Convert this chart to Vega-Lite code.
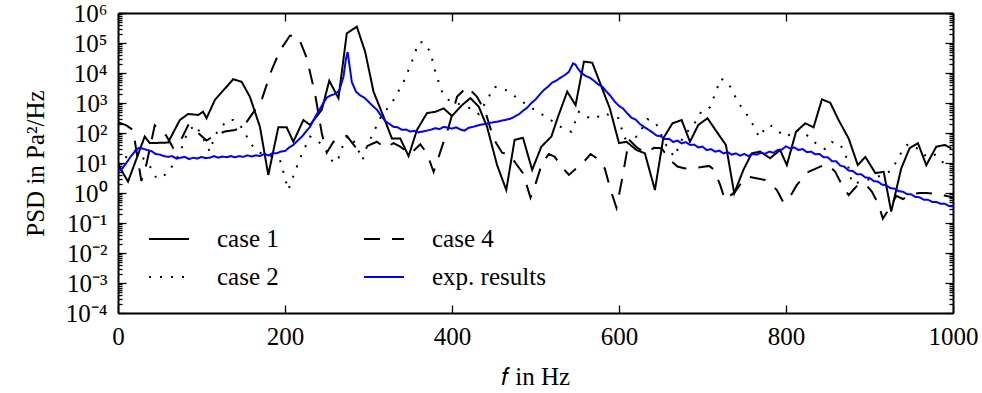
{
  "$schema": "https://vega.github.io/schema/vega-lite/v6.json",
  "width": 835,
  "height": 300,
  "autosize": {"type": "none"},
  "padding": {"left": 118, "top": 13, "right": 29, "bottom": 80},
  "config": {
    "view": {"stroke": null},
    "axis": {
      "grid": false,
      "domainColor": "black",
      "domainWidth": 2,
      "tickColor": "black",
      "tickWidth": 1.3,
      "labelFont": "Liberation Serif",
      "labelFontSize": 25,
      "labelColor": "black",
      "titleFont": "Liberation Serif",
      "titleFontSize": 25,
      "titleFontWeight": "normal",
      "titleColor": "black"
    },
    "legend": {
      "labelFont": "Liberation Serif",
      "labelFontSize": 25,
      "labelColor": "black"
    }
  },
  "data": {"values": [
    {"series":"case 1","f":0,"psd":9},{"series":"case 1","f":12,"psd":2.4},{"series":"case 1","f":32,"psd":76},{"series":"case 1","f":38,"psd":46},{"series":"case 1","f":60,"psd":48},{"series":"case 1","f":74,"psd":270},{"series":"case 1","f":84,"psd":430},{"series":"case 1","f":96,"psd":400},{"series":"case 1","f":102,"psd":510},{"series":"case 1","f":106,"psd":310},{"series":"case 1","f":116,"psd":1260},{"series":"case 1","f":138,"psd":6200},{"series":"case 1","f":148,"psd":5100},{"series":"case 1","f":158,"psd":1600},{"series":"case 1","f":170,"psd":160},{"series":"case 1","f":180,"psd":4},{"series":"case 1","f":192,"psd":155},{"series":"case 1","f":202,"psd":155},{"series":"case 1","f":210,"psd":51},{"series":"case 1","f":222,"psd":270},{"series":"case 1","f":230,"psd":186},{"series":"case 1","f":244,"psd":590},{"series":"case 1","f":253,"psd":5500},{"series":"case 1","f":264,"psd":1450},{"series":"case 1","f":274,"psd":210000},{"series":"case 1","f":286,"psd":350000},{"series":"case 1","f":296,"psd":51000},{"series":"case 1","f":306,"psd":2400},{"series":"case 1","f":318,"psd":350},{"series":"case 1","f":328,"psd":66},{"series":"case 1","f":338,"psd":66},{"series":"case 1","f":348,"psd":17},{"series":"case 1","f":358,"psd":126},{"series":"case 1","f":370,"psd":460},{"series":"case 1","f":380,"psd":510},{"series":"case 1","f":390,"psd":660},{"series":"case 1","f":400,"psd":370},{"series":"case 1","f":412,"psd":850},{"series":"case 1","f":422,"psd":1450},{"series":"case 1","f":432,"psd":760},{"series":"case 1","f":442,"psd":160},{"series":"case 1","f":454,"psd":8.5},{"series":"case 1","f":465,"psd":1.26},{"series":"case 1","f":475,"psd":59},{"series":"case 1","f":485,"psd":69},{"series":"case 1","f":496,"psd":5.9},{"series":"case 1","f":507,"psd":35},{"series":"case 1","f":519,"psd":76},{"series":"case 1","f":527,"psd":350},{"series":"case 1","f":538,"psd":2400},{"series":"case 1","f":548,"psd":850},{"series":"case 1","f":558,"psd":24000},{"series":"case 1","f":568,"psd":22000},{"series":"case 1","f":579,"psd":3500},{"series":"case 1","f":589,"psd":660},{"series":"case 1","f":600,"psd":46},{"series":"case 1","f":609,"psd":51},{"series":"case 1","f":621,"psd":27},{"series":"case 1","f":631,"psd":21},{"series":"case 1","f":643,"psd":1.26},{"series":"case 1","f":653,"psd":66},{"series":"case 1","f":664,"psd":210},{"series":"case 1","f":675,"psd":270},{"series":"case 1","f":685,"psd":51},{"series":"case 1","f":695,"psd":186},{"series":"case 1","f":706,"psd":310},{"series":"case 1","f":717,"psd":110},{"series":"case 1","f":728,"psd":40},{"series":"case 1","f":738,"psd":0.98},{"series":"case 1","f":749,"psd":5.9},{"series":"case 1","f":759,"psd":21},{"series":"case 1","f":769,"psd":24},{"series":"case 1","f":781,"psd":14.5},{"series":"case 1","f":793,"psd":27},{"series":"case 1","f":801,"psd":8.5},{"series":"case 1","f":812,"psd":110},{"series":"case 1","f":823,"psd":210},{"series":"case 1","f":833,"psd":155},{"series":"case 1","f":843,"psd":1320},{"series":"case 1","f":853,"psd":1020},{"series":"case 1","f":863,"psd":270},{"series":"case 1","f":875,"psd":66},{"series":"case 1","f":886,"psd":8.5},{"series":"case 1","f":895,"psd":16},{"series":"case 1","f":907,"psd":4.6},{"series":"case 1","f":917,"psd":5.1},{"series":"case 1","f":926,"psd":0.24},{"series":"case 1","f":938,"psd":6.6},{"series":"case 1","f":948,"psd":31},{"series":"case 1","f":958,"psd":46},{"series":"case 1","f":968,"psd":8.5},{"series":"case 1","f":980,"psd":35},{"series":"case 1","f":990,"psd":40},{"series":"case 1","f":998,"psd":31},
    {"series":"case 2","f":0,"psd":8},{"series":"case 2","f":10,"psd":16},{"series":"case 2","f":20,"psd":25},{"series":"case 2","f":30,"psd":14.5},{"series":"case 2","f":40,"psd":6.6},{"series":"case 2","f":46,"psd":3.1},{"series":"case 2","f":54,"psd":3.5},{"series":"case 2","f":62,"psd":5.9},{"series":"case 2","f":74,"psd":21},{"series":"case 2","f":83,"psd":102},{"series":"case 2","f":92,"psd":186},{"series":"case 2","f":99,"psd":98},{"series":"case 2","f":110,"psd":24},{"series":"case 2","f":116,"psd":85},{"series":"case 2","f":131,"psd":270},{"series":"case 2","f":138,"psd":270},{"series":"case 2","f":148,"psd":155},{"series":"case 2","f":160,"psd":40},{"series":"case 2","f":170,"psd":22},{"series":"case 2","f":182,"psd":18},{"series":"case 2","f":194,"psd":12.6},{"series":"case 2","f":204,"psd":1.26},{"series":"case 2","f":209,"psd":3.1},{"series":"case 2","f":218,"psd":14.5},{"series":"case 2","f":230,"psd":76},{"series":"case 2","f":238,"psd":59},{"series":"case 2","f":244,"psd":40},{"series":"case 2","f":252,"psd":21},{"series":"case 2","f":258,"psd":9.8},{"series":"case 2","f":264,"psd":14.5},{"series":"case 2","f":268,"psd":31},{"series":"case 2","f":276,"psd":85},{"series":"case 2","f":284,"psd":46},{"series":"case 2","f":293,"psd":12.6},{"series":"case 2","f":298,"psd":35},{"series":"case 2","f":314,"psd":310},{"series":"case 2","f":330,"psd":1260},{"series":"case 2","f":342,"psd":5100},{"series":"case 2","f":352,"psd":24000},{"series":"case 2","f":360,"psd":105000},{"series":"case 2","f":366,"psd":105000},{"series":"case 2","f":374,"psd":51000},{"series":"case 2","f":380,"psd":11000},{"series":"case 2","f":388,"psd":2400},{"series":"case 2","f":396,"psd":1260},{"series":"case 2","f":410,"psd":890},{"series":"case 2","f":424,"psd":630},{"series":"case 2","f":432,"psd":430},{"series":"case 2","f":451,"psd":3500},{"series":"case 2","f":463,"psd":2900},{"series":"case 2","f":490,"psd":850},{"series":"case 2","f":515,"psd":310},{"series":"case 2","f":535,"psd":130},{"series":"case 2","f":543,"psd":110},{"series":"case 2","f":552,"psd":510},{"series":"case 2","f":561,"psd":350},{"series":"case 2","f":571,"psd":290},{"series":"case 2","f":581,"psd":460},{"series":"case 2","f":599,"psd":320},{"series":"case 2","f":607,"psd":66},{"series":"case 2","f":622,"psd":76},{"series":"case 2","f":634,"psd":290},{"series":"case 2","f":644,"psd":220},{"series":"case 2","f":655,"psd":46},{"series":"case 2","f":666,"psd":16},{"series":"case 2","f":677,"psd":76},{"series":"case 2","f":693,"psd":260},{"series":"case 2","f":699,"psd":550},{"series":"case 2","f":709,"psd":720},{"series":"case 2","f":722,"psd":6600},{"series":"case 2","f":731,"psd":4600},{"series":"case 2","f":743,"psd":1020},{"series":"case 2","f":757,"psd":290},{"series":"case 2","f":768,"psd":72},{"series":"case 2","f":775,"psd":145},{"series":"case 2","f":781,"psd":186},{"series":"case 2","f":791,"psd":110},{"series":"case 2","f":801,"psd":74},{"series":"case 2","f":811,"psd":129},{"series":"case 2","f":821,"psd":110},{"series":"case 2","f":829,"psd":66},{"series":"case 2","f":839,"psd":38},{"series":"case 2","f":847,"psd":29},{"series":"case 2","f":855,"psd":50},{"series":"case 2","f":865,"psd":42},{"series":"case 2","f":872,"psd":16},{"series":"case 2","f":879,"psd":2.1},{"series":"case 2","f":885,"psd":2.2},{"series":"case 2","f":906,"psd":3.2},{"series":"case 2","f":916,"psd":4},{"series":"case 2","f":926,"psd":5.6},{"series":"case 2","f":932,"psd":11},{"series":"case 2","f":938,"psd":22},{"series":"case 2","f":946,"psd":43},{"series":"case 2","f":956,"psd":32},{"series":"case 2","f":966,"psd":18},{"series":"case 2","f":976,"psd":22},{"series":"case 2","f":986,"psd":11},{"series":"case 2","f":996,"psd":9.3},
    {"series":"case 4","f":0,"psd":230},{"series":"case 4","f":10,"psd":180},{"series":"case 4","f":18,"psd":126},{"series":"case 4","f":28,"psd":2.5},{"series":"case 4","f":34,"psd":9},{"series":"case 4","f":44,"psd":180},{"series":"case 4","f":58,"psd":80},{"series":"case 4","f":66,"psd":32},{"series":"case 4","f":76,"psd":63},{"series":"case 4","f":84,"psd":180},{"series":"case 4","f":96,"psd":100},{"series":"case 4","f":106,"psd":56},{"series":"case 4","f":116,"psd":85},{"series":"case 4","f":128,"psd":112},{"series":"case 4","f":140,"psd":126},{"series":"case 4","f":150,"psd":160},{"series":"case 4","f":160,"psd":400},{"series":"case 4","f":172,"psd":1260},{"series":"case 4","f":184,"psd":12600},{"series":"case 4","f":194,"psd":56000},{"series":"case 4","f":206,"psd":178000},{"series":"case 4","f":216,"psd":158000},{"series":"case 4","f":226,"psd":32000},{"series":"case 4","f":236,"psd":2000},{"series":"case 4","f":244,"psd":100},{"series":"case 4","f":250,"psd":22},{"series":"case 4","f":258,"psd":51},{"series":"case 4","f":266,"psd":71},{"series":"case 4","f":274,"psd":80},{"series":"case 4","f":284,"psd":35},{"series":"case 4","f":290,"psd":28},{"series":"case 4","f":297,"psd":35},{"series":"case 4","f":310,"psd":51},{"series":"case 4","f":320,"psd":32},{"series":"case 4","f":330,"psd":46},{"series":"case 4","f":338,"psd":35},{"series":"case 4","f":350,"psd":20},{"series":"case 4","f":362,"psd":42},{"series":"case 4","f":370,"psd":21},{"series":"case 4","f":378,"psd":5},{"series":"case 4","f":384,"psd":16},{"series":"case 4","f":390,"psd":51},{"series":"case 4","f":396,"psd":160},{"series":"case 4","f":406,"psd":1600},{"series":"case 4","f":418,"psd":3500},{"series":"case 4","f":430,"psd":1600},{"series":"case 4","f":440,"psd":500},{"series":"case 4","f":450,"psd":63},{"series":"case 4","f":460,"psd":22},{"series":"case 4","f":470,"psd":18},{"series":"case 4","f":476,"psd":10},{"series":"case 4","f":485,"psd":4.6},{"series":"case 4","f":494,"psd":0.7},{"series":"case 4","f":500,"psd":2},{"series":"case 4","f":508,"psd":10},{"series":"case 4","f":516,"psd":20},{"series":"case 4","f":523,"psd":16},{"series":"case 4","f":533,"psd":6.6},{"series":"case 4","f":540,"psd":4},{"series":"case 4","f":550,"psd":7},{"series":"case 4","f":558,"psd":11},{"series":"case 4","f":566,"psd":20},{"series":"case 4","f":574,"psd":14},{"series":"case 4","f":583,"psd":6.6},{"series":"case 4","f":590,"psd":1.26},{"series":"case 4","f":597,"psd":0.32},{"series":"case 4","f":604,"psd":3.2},{"series":"case 4","f":612,"psd":60},{"series":"case 4","f":622,"psd":32},{"series":"case 4","f":632,"psd":22},{"series":"case 4","f":642,"psd":32},{"series":"case 4","f":651,"psd":31},{"series":"case 4","f":661,"psd":12.6},{"series":"case 4","f":670,"psd":7.6},{"series":"case 4","f":679,"psd":6.6},{"series":"case 4","f":697,"psd":7.2},{"series":"case 4","f":708,"psd":8},{"series":"case 4","f":714,"psd":5.9},{"series":"case 4","f":721,"psd":1.9},{"series":"case 4","f":727,"psd":0.59},{"series":"case 4","f":739,"psd":1.1},{"series":"case 4","f":748,"psd":2.5},{"series":"case 4","f":755,"psd":3.5},{"series":"case 4","f":775,"psd":2.7},{"series":"case 4","f":782,"psd":2},{"series":"case 4","f":789,"psd":1.26},{"series":"case 4","f":797,"psd":0.48},{"series":"case 4","f":805,"psd":0.76},{"series":"case 4","f":813,"psd":1.86},{"series":"case 4","f":827,"psd":5.1},{"series":"case 4","f":841,"psd":7.6},{"series":"case 4","f":850,"psd":8.9},{"series":"case 4","f":859,"psd":5.1},{"series":"case 4","f":867,"psd":1.86},{"series":"case 4","f":875,"psd":0.85},{"series":"case 4","f":886,"psd":1.86},{"series":"case 4","f":895,"psd":2},{"series":"case 4","f":903,"psd":1.1},{"series":"case 4","f":911,"psd":0.4},{"series":"case 4","f":916,"psd":0.14},{"series":"case 4","f":924,"psd":0.31},{"series":"case 4","f":932,"psd":0.8},{"series":"case 4","f":940,"psd":0.63},{"series":"case 4","f":950,"psd":0.9},{"series":"case 4","f":960,"psd":1},{"series":"case 4","f":968,"psd":1},{"series":"case 4","f":984,"psd":0.9},{"series":"case 4","f":992,"psd":0.8},{"series":"case 4","f":1000,"psd":0.7},
    {"series":"exp. results","f":0,"psd":5.5},{"series":"exp. results","f":5,"psd":6.5},{"series":"exp. results","f":10,"psd":10},{"series":"exp. results","f":15,"psd":16},{"series":"exp. results","f":20,"psd":24},{"series":"exp. results","f":25,"psd":32},{"series":"exp. results","f":30,"psd":30},{"series":"exp. results","f":35,"psd":27},{"series":"exp. results","f":40,"psd":25},{"series":"exp. results","f":45,"psd":20},{"series":"exp. results","f":50,"psd":19},{"series":"exp. results","f":55,"psd":17},{"series":"exp. results","f":60,"psd":16},{"series":"exp. results","f":65,"psd":17},{"series":"exp. results","f":70,"psd":14},{"series":"exp. results","f":75,"psd":15},{"series":"exp. results","f":80,"psd":16},{"series":"exp. results","f":85,"psd":13.5},{"series":"exp. results","f":90,"psd":15},{"series":"exp. results","f":95,"psd":14},{"series":"exp. results","f":100,"psd":16},{"series":"exp. results","f":105,"psd":14.5},{"series":"exp. results","f":110,"psd":15},{"series":"exp. results","f":115,"psd":17},{"series":"exp. results","f":120,"psd":15},{"series":"exp. results","f":125,"psd":16.5},{"series":"exp. results","f":130,"psd":15.5},{"series":"exp. results","f":135,"psd":17},{"series":"exp. results","f":140,"psd":15.5},{"series":"exp. results","f":145,"psd":17},{"series":"exp. results","f":150,"psd":16},{"series":"exp. results","f":155,"psd":18},{"series":"exp. results","f":160,"psd":16.5},{"series":"exp. results","f":165,"psd":18},{"series":"exp. results","f":170,"psd":17},{"series":"exp. results","f":175,"psd":20},{"series":"exp. results","f":180,"psd":18},{"series":"exp. results","f":185,"psd":21},{"series":"exp. results","f":190,"psd":21},{"series":"exp. results","f":195,"psd":24},{"series":"exp. results","f":200,"psd":25},{"series":"exp. results","f":205,"psd":33},{"series":"exp. results","f":210,"psd":40},{"series":"exp. results","f":215,"psd":55},{"series":"exp. results","f":220,"psd":75},{"series":"exp. results","f":225,"psd":110},{"series":"exp. results","f":230,"psd":160},{"series":"exp. results","f":235,"psd":300},{"series":"exp. results","f":240,"psd":520},{"series":"exp. results","f":245,"psd":900},{"series":"exp. results","f":250,"psd":1500},{"series":"exp. results","f":255,"psd":1800},{"series":"exp. results","f":260,"psd":2000},{"series":"exp. results","f":265,"psd":2600},{"series":"exp. results","f":270,"psd":7500},{"series":"exp. results","f":273,"psd":30000},{"series":"exp. results","f":275,"psd":50000},{"series":"exp. results","f":277,"psd":20000},{"series":"exp. results","f":280,"psd":5000},{"series":"exp. results","f":285,"psd":2400},{"series":"exp. results","f":290,"psd":1800},{"series":"exp. results","f":295,"psd":1500},{"series":"exp. results","f":300,"psd":1100},{"series":"exp. results","f":305,"psd":800},{"series":"exp. results","f":310,"psd":600},{"series":"exp. results","f":315,"psd":380},{"series":"exp. results","f":320,"psd":250},{"series":"exp. results","f":325,"psd":200},{"series":"exp. results","f":330,"psd":160},{"series":"exp. results","f":335,"psd":155},{"series":"exp. results","f":340,"psd":128},{"series":"exp. results","f":345,"psd":130},{"series":"exp. results","f":350,"psd":112},{"series":"exp. results","f":355,"psd":118},{"series":"exp. results","f":360,"psd":105},{"series":"exp. results","f":365,"psd":112},{"series":"exp. results","f":370,"psd":120},{"series":"exp. results","f":375,"psd":130},{"series":"exp. results","f":380,"psd":145},{"series":"exp. results","f":385,"psd":135},{"series":"exp. results","f":390,"psd":160},{"series":"exp. results","f":395,"psd":150},{"series":"exp. results","f":400,"psd":140},{"series":"exp. results","f":405,"psd":155},{"series":"exp. results","f":410,"psd":130},{"series":"exp. results","f":415,"psd":120},{"series":"exp. results","f":420,"psd":150},{"series":"exp. results","f":425,"psd":160},{"series":"exp. results","f":430,"psd":175},{"series":"exp. results","f":435,"psd":190},{"series":"exp. results","f":440,"psd":200},{"series":"exp. results","f":445,"psd":215},{"series":"exp. results","f":450,"psd":230},{"series":"exp. results","f":455,"psd":240},{"series":"exp. results","f":460,"psd":260},{"series":"exp. results","f":465,"psd":275},{"series":"exp. results","f":470,"psd":300},{"series":"exp. results","f":475,"psd":350},{"series":"exp. results","f":480,"psd":420},{"series":"exp. results","f":485,"psd":550},{"series":"exp. results","f":490,"psd":700},{"series":"exp. results","f":495,"psd":1000},{"series":"exp. results","f":500,"psd":1300},{"series":"exp. results","f":505,"psd":1900},{"series":"exp. results","f":510,"psd":2700},{"series":"exp. results","f":515,"psd":3500},{"series":"exp. results","f":520,"psd":4800},{"series":"exp. results","f":525,"psd":5600},{"series":"exp. results","f":530,"psd":7000},{"series":"exp. results","f":535,"psd":8500},{"series":"exp. results","f":540,"psd":11000},{"series":"exp. results","f":545,"psd":21000},{"series":"exp. results","f":548,"psd":19000},{"series":"exp. results","f":550,"psd":15000},{"series":"exp. results","f":555,"psd":10000},{"series":"exp. results","f":560,"psd":8000},{"series":"exp. results","f":565,"psd":7000},{"series":"exp. results","f":570,"psd":5500},{"series":"exp. results","f":575,"psd":4200},{"series":"exp. results","f":580,"psd":3500},{"series":"exp. results","f":585,"psd":2400},{"series":"exp. results","f":590,"psd":1700},{"series":"exp. results","f":595,"psd":1100},{"series":"exp. results","f":600,"psd":800},{"series":"exp. results","f":605,"psd":650},{"series":"exp. results","f":610,"psd":450},{"series":"exp. results","f":615,"psd":320},{"series":"exp. results","f":620,"psd":280},{"series":"exp. results","f":625,"psd":200},{"series":"exp. results","f":630,"psd":160},{"series":"exp. results","f":635,"psd":130},{"series":"exp. results","f":640,"psd":105},{"series":"exp. results","f":645,"psd":82},{"series":"exp. results","f":650,"psd":78},{"series":"exp. results","f":655,"psd":62},{"series":"exp. results","f":660,"psd":64},{"series":"exp. results","f":665,"psd":50},{"series":"exp. results","f":670,"psd":56},{"series":"exp. results","f":675,"psd":45},{"series":"exp. results","f":680,"psd":50},{"series":"exp. results","f":685,"psd":40},{"series":"exp. results","f":690,"psd":41},{"series":"exp. results","f":695,"psd":33},{"series":"exp. results","f":700,"psd":35},{"series":"exp. results","f":705,"psd":27},{"series":"exp. results","f":710,"psd":29},{"series":"exp. results","f":715,"psd":24},{"series":"exp. results","f":720,"psd":26},{"series":"exp. results","f":725,"psd":21},{"series":"exp. results","f":730,"psd":23},{"series":"exp. results","f":735,"psd":19},{"series":"exp. results","f":740,"psd":21},{"series":"exp. results","f":745,"psd":17.5},{"series":"exp. results","f":750,"psd":20},{"series":"exp. results","f":755,"psd":17},{"series":"exp. results","f":760,"psd":20},{"series":"exp. results","f":765,"psd":19},{"series":"exp. results","f":770,"psd":22},{"series":"exp. results","f":775,"psd":20},{"series":"exp. results","f":780,"psd":24},{"series":"exp. results","f":785,"psd":22},{"series":"exp. results","f":790,"psd":27},{"series":"exp. results","f":795,"psd":28},{"series":"exp. results","f":800,"psd":36},{"series":"exp. results","f":805,"psd":30},{"series":"exp. results","f":810,"psd":33},{"series":"exp. results","f":815,"psd":27},{"series":"exp. results","f":820,"psd":29},{"series":"exp. results","f":825,"psd":23},{"series":"exp. results","f":830,"psd":24},{"series":"exp. results","f":835,"psd":19.5},{"series":"exp. results","f":840,"psd":20},{"series":"exp. results","f":845,"psd":15.5},{"series":"exp. results","f":850,"psd":15.5},{"series":"exp. results","f":855,"psd":11.5},{"series":"exp. results","f":860,"psd":11.5},{"series":"exp. results","f":865,"psd":8.2},{"series":"exp. results","f":870,"psd":7.5},{"series":"exp. results","f":875,"psd":5.6},{"series":"exp. results","f":880,"psd":5.4},{"series":"exp. results","f":885,"psd":4.2},{"series":"exp. results","f":890,"psd":4.2},{"series":"exp. results","f":895,"psd":3.3},{"series":"exp. results","f":900,"psd":3.2},{"series":"exp. results","f":905,"psd":2.5},{"series":"exp. results","f":910,"psd":2.4},{"series":"exp. results","f":915,"psd":1.9},{"series":"exp. results","f":920,"psd":1.8},{"series":"exp. results","f":925,"psd":1.45},{"series":"exp. results","f":930,"psd":1.4},{"series":"exp. results","f":935,"psd":1.15},{"series":"exp. results","f":940,"psd":1.1},{"series":"exp. results","f":945,"psd":0.92},{"series":"exp. results","f":950,"psd":0.9},{"series":"exp. results","f":955,"psd":0.74},{"series":"exp. results","f":960,"psd":0.72},{"series":"exp. results","f":965,"psd":0.6},{"series":"exp. results","f":970,"psd":0.6},{"series":"exp. results","f":975,"psd":0.5},{"series":"exp. results","f":980,"psd":0.5},{"series":"exp. results","f":985,"psd":0.44},{"series":"exp. results","f":990,"psd":0.44},{"series":"exp. results","f":995,"psd":0.37},{"series":"exp. results","f":1000,"psd":0.36}
  ]},
  "layer": [
    {
      "mark": {"type": "line", "strokeWidth": 2, "clip": true},
      "encoding": {
        "x": {"field": "f", "type": "quantitative",
          "scale": {"domain": [0, 1000], "nice": false},
          "axis": {"orient": "bottom", "values": [0, 200, 400, 600, 800, 1000], "format": "d", "tickSize": -8, "labelPadding": 19, "labelBaseline": "top", "labelFlush": false,
            "title": "𝑓 in Hz", "titleX": 417, "titleY": 63, "titleBaseline": "middle", "titleAlign": "center"}},
        "y": {"field": "psd", "type": "quantitative",
          "scale": {"type": "log", "domain": [0.0001, 1000000], "nice": false},
          "axis": {"orient": "left",
            "values": [0.0001,0.0002,0.0003,0.0004,0.0005,0.0006,0.0007,0.0008,0.0009,0.001,0.002,0.003,0.004,0.005,0.006,0.007,0.008,0.009,0.01,0.02,0.03,0.04,0.05,0.06,0.07,0.08,0.09,0.1,0.2,0.3,0.4,0.5,0.6,0.7,0.8,0.9,1,2,3,4,5,6,7,8,9,10,20,30,40,50,60,70,80,90,100,200,300,400,500,600,700,800,900,1000,2000,3000,4000,5000,6000,7000,8000,9000,10000,20000,30000,40000,50000,60000,70000,80000,90000,100000,200000,300000,400000,500000,600000,700000,800000,900000,1000000],
            "tickSize": {"condition": {"test": "abs(log(datum.value)/LN10 - round(log(datum.value)/LN10)) < 0.001", "value": -8}, "value": -4},
            "labelPadding": 19, "labelOverlap": false, "labelFlush": false, "labelBaseline": "middle",
            "labelExpr": "abs(log(datum.value)/LN10 - round(log(datum.value)/LN10)) < 0.001 ? '10' + ['⁻⁴','⁻³','⁻²','⁻¹','⁰','¹','²','³','⁴','⁵','⁶'][round(log(datum.value)/LN10)+4] : ''",
            "title": "PSD in Pa²/Hz", "titleX": -83, "titleY": 150, "titleAngle": -90, "titleBaseline": "middle", "titleAlign": "center"}},
        "color": {"field": "series", "type": "nominal",
          "scale": {"domain": ["case 1", "case 2", "case 4", "exp. results"], "range": ["black", "black", "black", "#0000ff"]},
          "legend": {"title": null, "orient": "none", "legendX": 30, "legendY": 205, "columns": 2, "columnPadding": 81, "rowPadding": 4,
            "symbolType": "stroke", "symbolSize": 1600, "symbolStrokeWidth": 2, "labelOffset": 27, "padding": 0}},
        "strokeDash": {"field": "series", "type": "nominal",
          "scale": {"domain": ["case 1", "case 2", "case 4", "exp. results"], "range": [[1, 0], [2, 9], [16, 12], [1, 0]]},
          "legend": null}
      }
    },
    {
      "mark": {"type": "point", "opacity": 0},
      "encoding": {
        "x": {"field": "f", "type": "quantitative",
          "axis": {"orient": "top", "values": [0, 200, 400, 600, 800, 1000], "tickSize": -8, "labels": false, "title": null}},
        "y": {"field": "psd", "type": "quantitative",
          "axis": {"orient": "right", "labels": false, "title": null,
            "values": [0.0001,0.0002,0.0003,0.0004,0.0005,0.0006,0.0007,0.0008,0.0009,0.001,0.002,0.003,0.004,0.005,0.006,0.007,0.008,0.009,0.01,0.02,0.03,0.04,0.05,0.06,0.07,0.08,0.09,0.1,0.2,0.3,0.4,0.5,0.6,0.7,0.8,0.9,1,2,3,4,5,6,7,8,9,10,20,30,40,50,60,70,80,90,100,200,300,400,500,600,700,800,900,1000,2000,3000,4000,5000,6000,7000,8000,9000,10000,20000,30000,40000,50000,60000,70000,80000,90000,100000,200000,300000,400000,500000,600000,700000,800000,900000,1000000],
            "tickSize": {"condition": {"test": "abs(log(datum.value)/LN10 - round(log(datum.value)/LN10)) < 0.001", "value": -8}, "value": -4}}}
      }
    }
  ],
  "resolve": {"axis": {"x": "independent", "y": "independent"}}
}
